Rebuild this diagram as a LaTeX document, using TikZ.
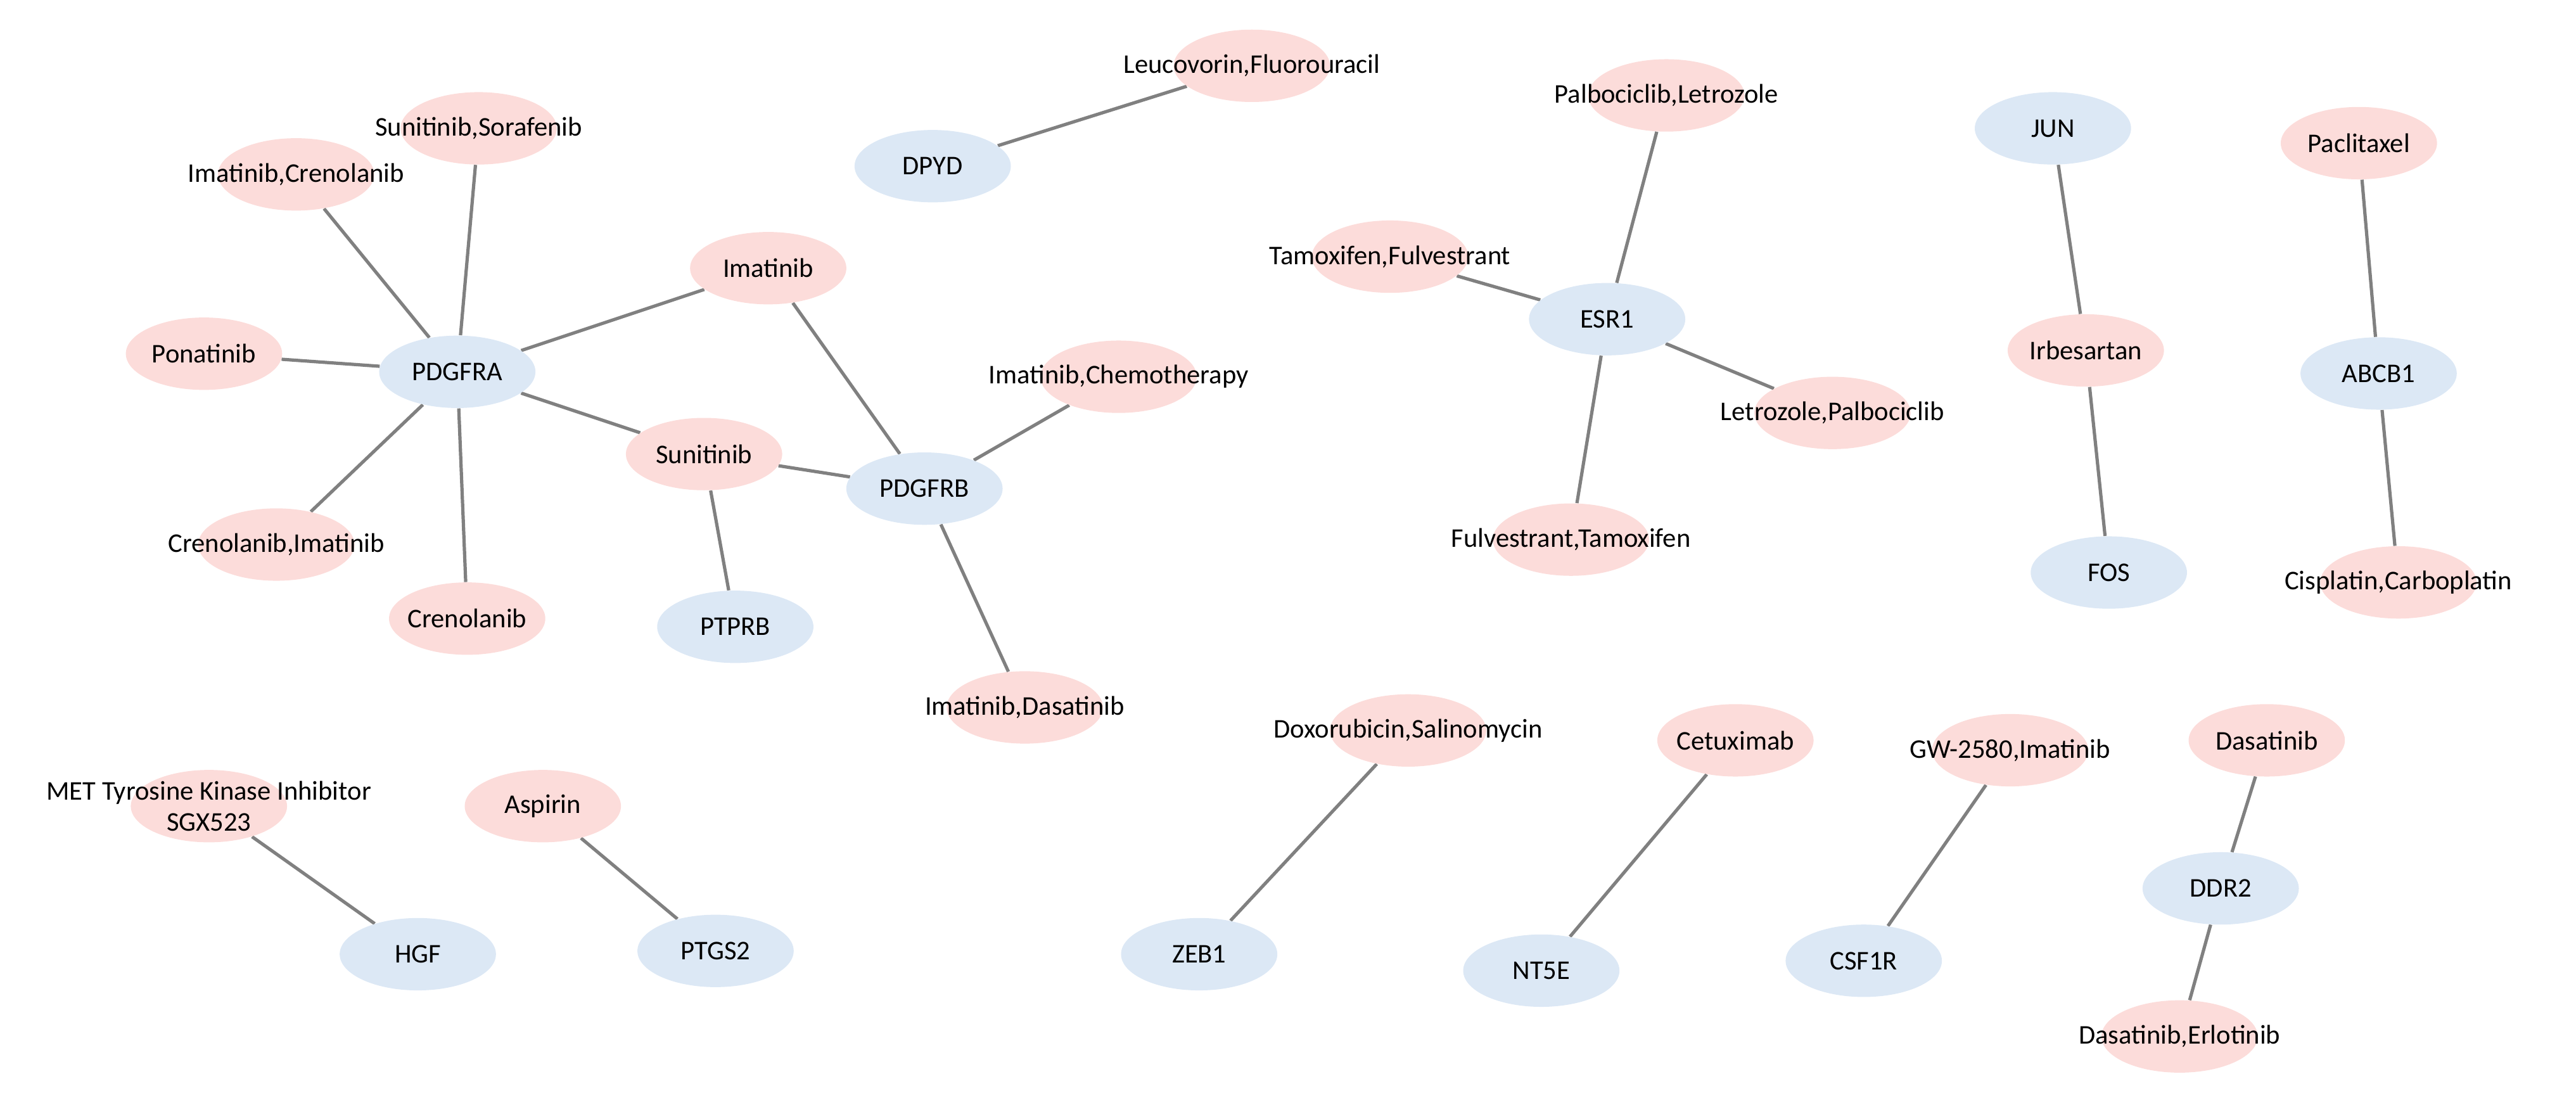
\documentclass[tikz,border=0pt]{standalone}
\usepackage{fontspec}
\setmainfont{Carlito}
\usetikzlibrary{shapes.geometric, backgrounds}
\definecolor{drugpink}{HTML}{FCDCDA}
\definecolor{geneblue}{HTML}{DCE8F5}

\begin{document}
\begin{tikzpicture}[x=0.3mm, y=-0.3mm,
        every node/.style={font=\fontsize{14}{16}\selectfont},
        base/.style={ellipse, minimum width=28.5mm, minimum height=13.2mm, inner sep=0pt},
        drug/.style={base, fill=drugpink, label={[align=center]center:#1}},
        gene/.style={base, fill=geneblue, label={center:#1}},
        link/.style={draw=gray, line width=0.6mm}]
        \useasboundingbox (0,0) rectangle (1566,664);
        % gene nodes
        \node[gene=DPYD] (dpyd) at (567,101) {};
        \node[gene=PDGFRA] (pdgfra) at (278,226) {};
        \node[gene=PDGFRB] (pdgfrb) at (562,297) {};
        \node[gene=PTPRB] (ptprb) at (447,381) {};
        \node[gene=ESR1] (esr1) at (977,194) {};
        \node[gene=JUN] (jun) at (1248,78) {};
        \node[gene=FOS] (fos) at (1282,348) {};
        \node[gene=ABCB1] (abcb1) at (1446,227) {};
        \node[gene=HGF] (hgf) at (254,580) {};
        \node[gene=PTGS2] (ptgs2) at (435,578) {};
        \node[gene=ZEB1] (zeb1) at (729,580) {};
        \node[gene=NT5E] (nt5e) at (937,590) {};
        \node[gene=CSF1R] (csf1r) at (1133,584) {};
        \node[gene=DDR2] (ddr2) at (1350,540) {};
        % drug nodes
        \node[drug={Leucovorin,Fluorouracil}] (leufluo) at (761,40) {};
        \node[drug={Sunitinib,Sorafenib}] (sunsora) at (291,78) {};
        \node[drug={Imatinib,Crenolanib}] (imacren) at (180,106) {};
        \node[drug=Ponatinib] (pona) at (124,215) {};
        \node[drug=Imatinib] (ima) at (467,163) {};
        \node[drug=Sunitinib] (suni) at (428,276) {};
        \node[drug={Imatinib,Chemotherapy}] (imachemo) at (680,229) {};
        \node[drug={Crenolanib,Imatinib}] (crenima) at (168,331) {};
        \node[drug=Crenolanib] (cren) at (284,376) {};
        \node[drug={Imatinib,Dasatinib}] (imadasa) at (623,430) {};
        \node[drug={Palbociclib,Letrozole}] (palblet) at (1013,58) {};
        \node[drug={Tamoxifen,Fulvestrant}] (tamful) at (845,156) {};
        \node[drug={Letrozole,Palbociclib}] (letpalb) at (1114,251) {};
        \node[drug={Fulvestrant,Tamoxifen}] (fultam) at (955,328) {};
        \node[drug=Irbesartan] (irbe) at (1268,213) {};
        \node[drug=Paclitaxel] (pacli) at (1434,87) {};
        \node[drug={Cisplatin,Carboplatin}] (ciscarb) at (1458,354) {};
        \node[drug={MET Tyrosine Kinase Inhibitor\\SGX523}] (met) at (127,490) {};
        \node[drug=Aspirin] (aspi) at (330,490) {};
        \node[drug={Doxorubicin,Salinomycin}] (doxsal) at (856,444) {};
        \node[drug=Cetuximab] (cetu) at (1055,450) {};
        \node[drug={GW-2580,Imatinib}] (gwima) at (1222,456) {};
        \node[drug=Dasatinib] (dasa) at (1378,450) {};
        \node[drug={Dasatinib,Erlotinib}] (dasaerl) at (1325,630) {};
        % edges
        \begin{scope}[on background layer]
        \path[link] (dpyd) -- (leufluo)
                (pdgfra) -- (sunsora) (pdgfra) -- (imacren) (pdgfra) -- (pona)
                (pdgfra) -- (ima) (pdgfra) -- (suni) (pdgfra) -- (crenima)
                (pdgfra) -- (cren)
                (pdgfrb) -- (ima) (pdgfrb) -- (suni) (pdgfrb) -- (imachemo)
                (pdgfrb) -- (imadasa) (suni) -- (ptprb)
                (esr1) -- (palblet) (esr1) -- (tamful) (esr1) -- (letpalb)
                (esr1) -- (fultam)
                (jun) -- (irbe) (irbe) -- (fos)
                (pacli) -- (abcb1) (abcb1) -- (ciscarb)
                (met) -- (hgf) (aspi) -- (ptgs2) (doxsal) -- (zeb1)
                (cetu) -- (nt5e) (gwima) -- (csf1r)
                (dasa) -- (ddr2) (ddr2) -- (dasaerl);
        \end{scope}
\end{tikzpicture}
\end{document}
